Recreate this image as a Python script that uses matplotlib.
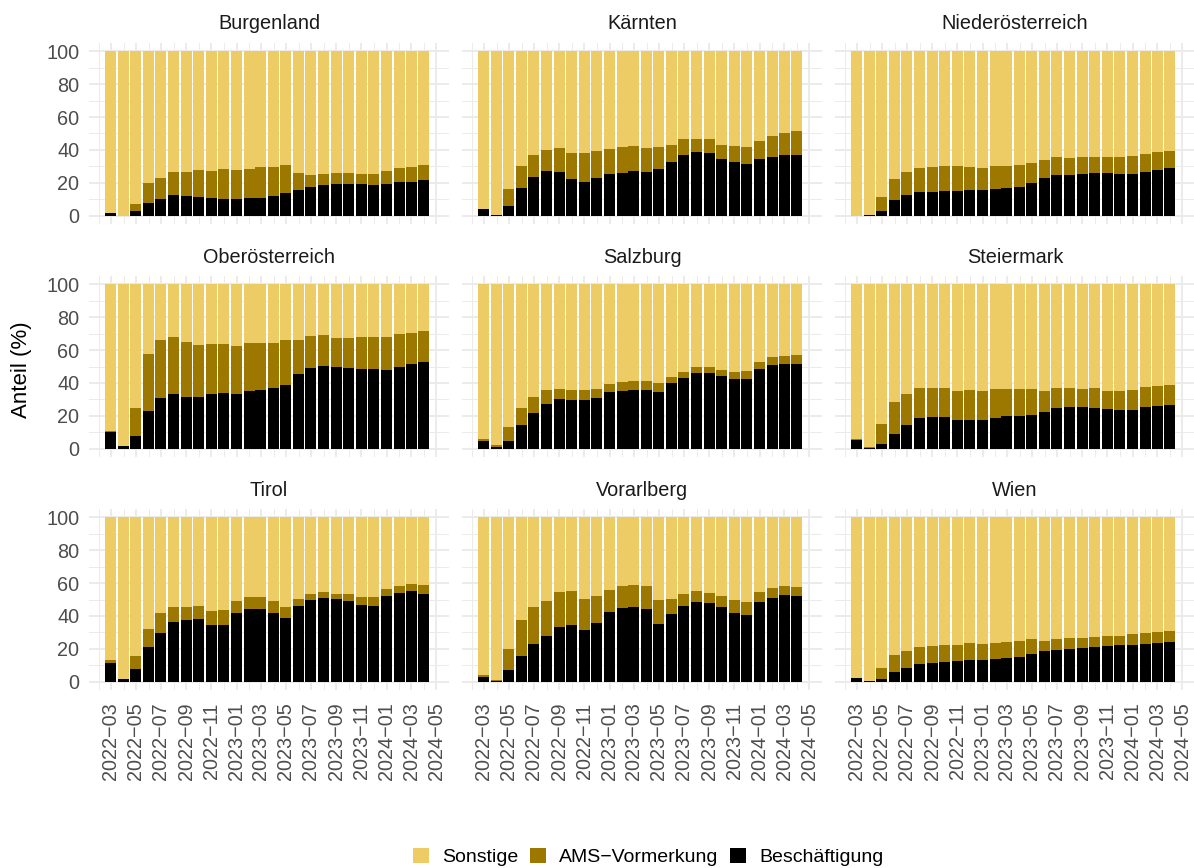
import numpy as np
import pandas as pd
import matplotlib

matplotlib.use("Agg")
import matplotlib.pyplot as plt
import matplotlib.dates as mdates
from matplotlib.patches import Patch

plt.rcParams["font.family"] = ["Liberation Sans", "DejaVu Sans"]

# Monatswerte März 2022 bis April 2024, Anteile in Prozent
months = pd.date_range("2022-03-01", "2024-04-01", freq="MS")

regions = [
    "Burgenland", "Kärnten", "Niederösterreich",
    "Oberösterreich", "Salzburg", "Steiermark",
    "Tirol", "Vorarlberg", "Wien",
]

besch_burgenland = [1.8, 0, 3, 7.9, 10.3, 12.7, 12.1, 11.5, 10.9, 10.3, 10.3, 10.9, 10.9,
                    12.1, 13.9, 15.8, 17.6, 18.8, 19.4, 19.4, 19.4, 18.8, 19.4, 20.6, 20.6, 21.8]
ams_burgenland = [0, 0, 4.3, 12.1, 12.7, 14, 14.6, 16.4, 16.4, 18.2, 17.6, 17.6, 18.8,
                  17.6, 17, 10.3, 7.2, 6.7, 6.7, 6.7, 6.1, 6.7, 7.9, 8.5, 9.1, 9.1]

besch_kaernten = [4.2, 0.6, 6.1, 17, 23.6, 27.3, 26.7, 22.4, 20.6, 23, 25.5, 26.1, 27.3,
                  26.7, 28.5, 32.7, 37, 38.8, 38.2, 34.5, 32.7, 31.5, 34.5, 35.8, 37, 37]
ams_kaernten = [0, 0, 10.3, 13.3, 13.4, 12.7, 14.5, 15.8, 17.6, 16.4, 15.1, 15.7, 15.1,
                14.5, 13.3, 10.3, 9.7, 7.9, 8.5, 8.5, 9.7, 10.3, 11, 12.7, 13.3, 14.5]

besch_noe = [0, 0.6, 3, 9.7, 12.7, 14.5, 14.5, 15.2, 15.2, 15.8, 15.8, 16.4, 17,
             17.6, 20, 23, 24.8, 24.8, 25.5, 26.1, 26.1, 25.5, 25.5, 26.7, 27.9, 29.1]
ams_noe = [0, 0, 8.5, 12.7, 14, 14.6, 15.2, 15.1, 15.1, 13.9, 13.3, 13.9, 13.3,
           13.3, 12.1, 10.9, 11, 10.4, 10.3, 9.7, 9.7, 10.3, 10.9, 10.9, 10.9, 10.3]

besch_ooe = [10.3, 1.8, 7.9, 23, 30.9, 33.3, 31.5, 31.5, 33.3, 33.9, 33.3, 35.2, 35.8,
             37, 38.8, 45.5, 49.1, 50.3, 49.7, 49.1, 48.5, 48.5, 47.9, 49.7, 51.5, 52.7]
ams_ooe = [0.6, 0, 16.9, 34.6, 35.2, 34.6, 33.3, 31.5, 30.3, 29.7, 29.1, 29, 28.4,
           27.2, 27.3, 20.6, 19.4, 18.8, 17.6, 18.2, 19.4, 19.4, 20, 20, 18.8, 18.8]

besch_salzburg = [4.8, 1.2, 4.8, 14.5, 21.8, 27.3, 30.3, 29.7, 29.7, 30.9, 34.5, 35.2, 35.8,
                  35.8, 34.5, 40, 43, 46.1, 46.1, 44.2, 42.4, 42.4, 48.5, 50.9, 51.5, 51.5]
ams_salzburg = [1.3, 1.2, 8.5, 10.3, 9.7, 8.5, 6.1, 6.1, 6.1, 5.5, 4.9, 5.4, 5.4,
                5.4, 5.5, 3.6, 3.7, 3.6, 3.6, 3.7, 4.3, 4.9, 4.2, 4.9, 4.9, 5.5]

besch_steiermark = [5.5, 0.6, 3, 9.1, 14.5, 18.8, 19.4, 19.4, 17.6, 17.6, 17.6, 18.8, 20,
                    20, 20.6, 22.4, 24.8, 25.5, 25.5, 24.8, 24.2, 23.6, 23.6, 25.5, 26.1, 26.7]
ams_steiermark = [0.6, 0.6, 12.2, 19.4, 18.8, 18.2, 17.6, 17.6, 17.6, 18.2, 17.6, 17.6, 16.4,
                  16.4, 15.8, 12.8, 12.2, 11.5, 10.9, 12.2, 11, 11.6, 12.2, 12.1, 12.1, 12.1]

besch_tirol = [11.5, 1.8, 7.9, 21.2, 29.7, 36.4, 37.6, 38.2, 34.5, 34.5, 41.8, 44.2, 44.2,
               41.8, 38.8, 46.1, 49.7, 50.9, 50.3, 49.1, 46.7, 46.1, 52.1, 53.9, 55.2, 53.3]
ams_tirol = [1.8, 0, 7.9, 10.9, 12.1, 9.1, 7.9, 7.9, 8.5, 9.1, 7.3, 7.3, 7.3,
             7.3, 6.7, 4.2, 3.6, 3.6, 3, 4.2, 4.8, 5.4, 4.3, 4.3, 4.2, 5.5]

besch_vorarlberg = [3, 0.6, 7.3, 15.8, 23, 27.9, 33.3, 34.5, 31.5, 35.8, 42.4, 44.8, 45.5,
                    44.2, 35.2, 41.2, 46.1, 48.5, 47.9, 45.5, 41.8, 40.6, 48.5, 50.9, 52.7, 52.1]
ams_vorarlberg = [1.2, 0.6, 12.7, 21.8, 22.5, 21.2, 21.2, 20.7, 18.8, 16.3, 13.4, 13.4, 13.3,
                  14, 14.5, 9.1, 7.2, 6.7, 6, 6.6, 7.9, 7.9, 6, 6.1, 5.5, 5.5]

besch_wien = [2.4, 0.6, 1.8, 6.1, 8.5, 10.9, 11.5, 12.1, 12.7, 13.3, 13.3, 13.9, 14.5,
              15.2, 17, 18.8, 19.4, 20, 20.6, 21.2, 21.8, 22.4, 22.4, 23, 23.6, 24.2]
ams_wien = [0, 0, 6.7, 10.3, 10.3, 10.3, 10.3, 10.3, 9.7, 10.3, 9.7, 9.7, 9.7,
            9.6, 9.1, 6, 6.7, 6.7, 6.1, 6.1, 6.1, 5.5, 6.7, 6.7, 6.7, 6.7]

besch = [besch_burgenland, besch_kaernten, besch_noe, besch_ooe, besch_salzburg,
         besch_steiermark, besch_tirol, besch_vorarlberg, besch_wien]
ams = [ams_burgenland, ams_kaernten, ams_noe, ams_ooe, ams_salzburg,
       ams_steiermark, ams_tirol, ams_vorarlberg, ams_wien]

categories = ["Sonstige", "AMS\u2212Vormerkung", "Beschäftigung"]
colors = {"Sonstige": "#EDCC66", "AMS\u2212Vormerkung": "#9C7800", "Beschäftigung": "#000000"}

W, H = 1194, 868
fig = plt.figure(figsize=(W / 100, H / 100), dpi=100)
fig.patch.set_facecolor("white")

col_left = [89, 462, 835]
row_top = [43, 276, 509]
pw, ph = 360, 181

x = mdates.date2num(months.to_pydatetime())
bar_w = 27.0
x_lo = x[0] - bar_w / 2
x_hi = x[-1] + bar_w / 2
pad = (x_hi - x_lo) * 0.05

major_ticks = pd.date_range("2022-03-01", "2024-05-01", freq="2MS")
minor_ticks = pd.date_range("2022-02-01", "2024-06-01", freq="MS")
grid_c = "#EBEBEB"

for i, region in enumerate(regions):
    r, c = divmod(i, 3)
    ax = fig.add_axes([col_left[c] / W, 1 - (row_top[r] + ph) / H, pw / W, ph / H])
    ax.set_facecolor("white")
    for s in ax.spines.values():
        s.set_visible(False)

    b = np.array(besch[i], dtype=float)
    a = np.array(ams[i], dtype=float)
    rest = 100 - b - a
    ax.bar(x, b, width=bar_w, color=colors["Beschäftigung"], zorder=3, linewidth=0)
    ax.bar(x, a, width=bar_w, bottom=b, color=colors["AMS\u2212Vormerkung"], zorder=3, linewidth=0)
    ax.bar(x, rest, width=bar_w, bottom=b + a, color=colors["Sonstige"], zorder=3, linewidth=0)

    ax.set_xlim(x_lo - pad, x_hi + pad)
    ax.set_ylim(-5, 105)
    ax.set_yticks([0, 20, 40, 60, 80, 100])
    ax.set_yticks([10, 30, 50, 70, 90], minor=True)
    ax.set_xticks(mdates.date2num(major_ticks.to_pydatetime()))
    ax.set_xticks(mdates.date2num(minor_ticks.to_pydatetime()), minor=True)
    ax.grid(True, which="major", color=grid_c, linewidth=1.4, zorder=0)
    ax.grid(True, which="minor", color=grid_c, linewidth=0.7, zorder=0)
    ax.set_axisbelow(True)
    ax.tick_params(which="both", length=0, colors="#4D4D4D", labelsize=14.3)

    if c == 0:
        ax.tick_params(axis="y", pad=7)
    else:
        ax.set_yticklabels([])
    if r == 2:
        ax.set_xticklabels([d.strftime("%Y\u2212%m") for d in major_ticks], rotation=90)
        ax.tick_params(axis="x", pad=9)
    else:
        ax.set_xticklabels([])

    ax.text(0.5, 1 + 19 / ph, region, transform=ax.transAxes, ha="center", va="center",
            fontsize=14.3, color="#1A1A1A")

fig.text(22 / W, 1 - 370 / H, "Anteil (%)", rotation=90, ha="center", va="center",
         fontsize=16, color="black")

handles = [Patch(facecolor=colors[k], edgecolor="none", label=k) for k in categories]
fig.legend(handles=handles, loc="center", bbox_to_anchor=(0.543, 1 - 857 / H), ncol=3,
           frameon=False, fontsize=14, handlelength=0.8, handleheight=0.8,
           handletextpad=0.7, columnspacing=0.6)

fig.savefig("out.png", dpi=100, facecolor="white")
